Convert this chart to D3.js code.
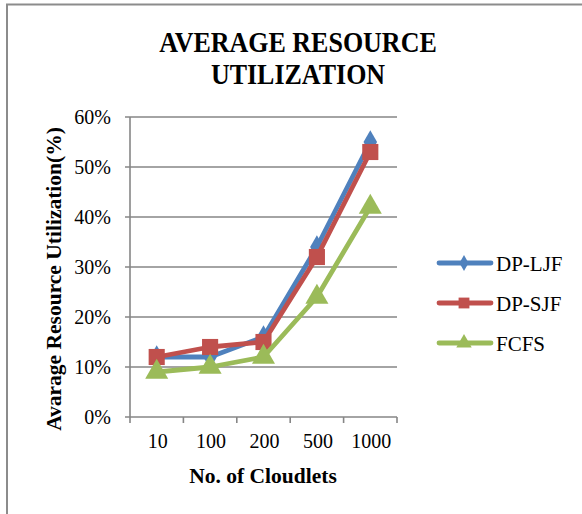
<!DOCTYPE html>
<html>
<head>
<meta charset="utf-8">
<script src="https://cdn.jsdelivr.net/npm/d3@7"></script>
<style>
  html, body { margin: 0; padding: 0; background: #fff; }
  svg { display: block; font-family: "Liberation Serif", "Times New Roman", serif; }
</style>
</head>
<body>
<svg id="chart" width="582" height="514"></svg>
<script>
// Cloudlet counts on the x axis
const categories = ["10", "100", "200", "500", "1000"];
// Average resource utilization per scheduler (fractions)
const dpLjf = [0.12, 0.12, 0.16, 0.34, 0.55];
const dpSjf = [0.12, 0.14, 0.15, 0.32, 0.53];
const fcfs  = [0.09, 0.10, 0.12, 0.24, 0.42];
const seriesNames = ["DP-LJF", "DP-SJF", "FCFS"];
const yTicks = [0, 0.1, 0.2, 0.3, 0.4, 0.5, 0.6];
const titleLines = ["AVERAGE RESOURCE", "UTILIZATION"];

const series = [
  { name: seriesNames[0], values: dpLjf, color: "#4F81BD", symbol: d3.symbolDiamond, size: 160 },
  { name: seriesNames[1], values: dpSjf, color: "#C0504D", symbol: d3.symbolSquare, size: 260 },
  { name: seriesNames[2], values: fcfs,  color: "#9BBB59", symbol: d3.symbolTriangle, size: 230 }
];

const svg = d3.select("#chart");
const gridColor = "#868686";

// Outer chart frame (runs past the right and bottom edges)
svg.append("path")
  .attr("d", "M7,520 V4.5 H590")
  .attr("fill", "none")
  .attr("stroke", "#8c8c8c")
  .attr("stroke-width", 2);

// Title, two lines, slightly tall letterforms
titleLines.forEach((t, i) => {
  const base = 52 + i * 32;
  svg.append("text")
    .attr("transform", `translate(298,${base}) scale(1,1.15)`)
    .attr("text-anchor", "middle")
    .attr("font-weight", "bold").attr("font-size", 26).attr("fill", "#000")
    .text(t);
});

const plot = { left: 130, right: 397, top: 117, bottom: 417 };

const x = d3.scaleBand().domain(categories).range([plot.left, plot.right]).padding(0);
const y = d3.scaleLinear().domain([0, 0.6]).range([plot.bottom, plot.top]);

// Horizontal gridlines with outer tick marks
svg.append("g").selectAll("line").data(yTicks).join("line")
  .attr("x1", plot.left - 5).attr("x2", plot.right)
  .attr("y1", d => y(d)).attr("y2", d => y(d))
  .attr("stroke", gridColor).attr("stroke-width", 1.6);

// Y axis line
svg.append("line")
  .attr("x1", plot.left).attr("x2", plot.left)
  .attr("y1", plot.top).attr("y2", plot.bottom)
  .attr("stroke", gridColor).attr("stroke-width", 1.6);

// X category boundary ticks
const bounds = categories.map(c => x(c)).concat([plot.right]);
svg.append("g").selectAll("line").data(bounds).join("line")
  .attr("x1", d => d).attr("x2", d => d)
  .attr("y1", plot.bottom).attr("y2", plot.bottom + 6)
  .attr("stroke", gridColor).attr("stroke-width", 1.6);

// Y tick labels
svg.append("g").selectAll("text").data(yTicks).join("text")
  .attr("x", plot.left - 19).attr("y", d => y(d) + 7)
  .attr("text-anchor", "end").attr("font-size", 20).attr("fill", "#000")
  .text(d => d3.format(".0%")(d));

// X tick labels
svg.append("g").selectAll("text").data(categories).join("text")
  .attr("x", d => x(d) + x.bandwidth() / 2 + 1).attr("y", 448)
  .attr("text-anchor", "middle").attr("font-size", 20).attr("fill", "#000")
  .text(d => d);

// Axis titles
svg.append("text")
  .attr("x", 263).attr("y", 483)
  .attr("text-anchor", "middle").attr("font-weight", "bold").attr("font-size", 21.5)
  .text("No. of Cloudlets");

svg.append("text")
  .attr("transform", "translate(61,279) rotate(-90)")
  .attr("text-anchor", "middle").attr("font-weight", "bold").attr("font-size", 21.5)
  .text("Avarage Resource Utilization(%)");

// Series lines and markers
const cx = d => x(d) + x.bandwidth() / 2;
const line = d3.line().x((v, i) => cx(categories[i])).y(v => y(v));

series.forEach(s => {
  const g = svg.append("g");
  g.append("path").datum(s.values)
    .attr("d", line).attr("fill", "none")
    .attr("stroke", s.color).attr("stroke-width", 4.8)
    .attr("stroke-linejoin", "round").attr("stroke-linecap", "round");
  g.selectAll("path.m").data(s.values).join("path").attr("class", "m")
    .attr("transform", (v, i) => `translate(${cx(categories[i])},${y(v)})`)
    .attr("d", d3.symbol().type(s.symbol).size(s.size))
    .attr("fill", s.color);
});

// Legend
const legend = svg.append("g");
series.forEach((s, i) => {
  const ly = 263 + i * 40;
  legend.append("line")
    .attr("x1", 439).attr("x2", 491).attr("y1", ly).attr("y2", ly)
    .attr("stroke", s.color).attr("stroke-width", 4.8).attr("stroke-linecap", "round");
  legend.append("path")
    .attr("transform", `translate(464,${ly})`)
    .attr("d", d3.symbol().type(s.symbol).size(s.size * 0.45))
    .attr("fill", s.color);
  legend.append("text")
    .attr("x", 496).attr("y", ly + 8)
    .attr("font-size", 21).attr("fill", "#000")
    .text(s.name);
});
</script>
</body>
</html>
